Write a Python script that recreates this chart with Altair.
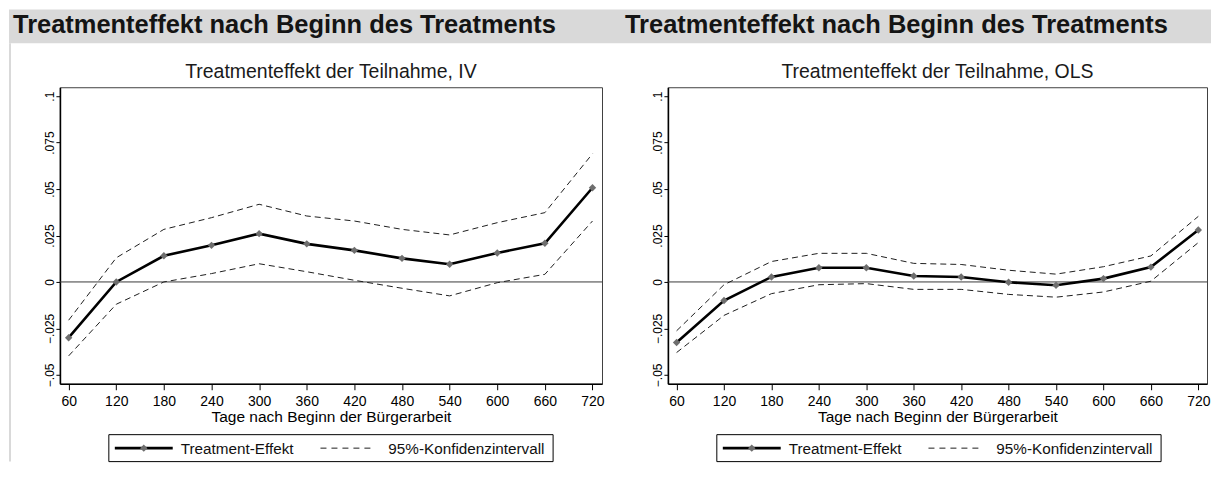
import altair as alt
import pandas as pd

# ---------------- data ----------------
DAYS = [60, 120, 180, 240, 300, 360, 420, 480, 540, 600, 660, 720]

IV_EFFECT = [-0.030, 0.000, 0.0141, 0.0197, 0.0260, 0.0205, 0.0170, 0.0127, 0.0095, 0.0156, 0.0208, 0.0507]
IV_UPPER = [-0.0206, 0.0130, 0.0283, 0.0346, 0.0418, 0.0355, 0.0328, 0.0283, 0.0253, 0.0319, 0.0373, 0.0690]
IV_LOWER = [-0.0398, -0.0120, 0.0000, 0.0045, 0.0098, 0.0055, 0.0009, -0.0034, -0.0075, -0.0004, 0.0041, 0.0328]

OLS_EFFECT = [-0.0326, -0.0100, 0.0027, 0.0076, 0.0076, 0.0032, 0.0027, -0.0002, -0.0018, 0.0018, 0.0080, 0.0280]
OLS_UPPER = [-0.0263, -0.0015, 0.0110, 0.0154, 0.0154, 0.0100, 0.0094, 0.0063, 0.0042, 0.0082, 0.0140, 0.0353]
OLS_LOWER = [-0.0380, -0.0180, -0.0063, -0.0015, -0.0009, -0.0040, -0.0040, -0.0067, -0.0082, -0.0054, 0.0004, 0.0212]

Y_TICKS = [-0.05, -0.025, 0, 0.025, 0.05, 0.075, 0.1]

BANNER = "Treatmenteffekt nach Beginn des Treatments"
SUBTITLES = ["Treatmenteffekt der Teilnahme, IV", "Treatmenteffekt der Teilnahme, OLS"]
X_TITLE = "Tage nach Beginn der Bürgerarbeit"
LEGEND_LABELS = ["Treatment-Effekt", "95%-Konfidenzintervall"]

FONT = "Liberation Sans, Arial, sans-serif"
ONE = pd.DataFrame({"k": [0]})
HEIGHT = 297


def deco_text(text, x, y, size, weight="normal", align="left", color="#111111"):
    return alt.Chart(ONE).mark_text(
        text=text, align=align, baseline="alphabetic", font=FONT,
        fontSize=size, fontWeight=weight, color=color
    ).encode(x=alt.value(x), y=alt.value(y))


def deco_rect(x, x2, y, y2, fill, stroke=None):
    kw = dict(fill=fill)
    if stroke:
        kw.update(stroke=stroke, strokeWidth=1)
    return alt.Chart(ONE).mark_rect(**kw).encode(
        x=alt.value(x), x2=alt.value(x2), y=alt.value(y), y2=alt.value(y2))


def panel(eff, hi, lo, subtitle, width, xdomain, banner_x, left_panel):
    df = pd.DataFrame({"day": DAYS, "eff": eff, "hi": hi, "lo": lo})

    xenc = alt.X(
        "day:Q",
        scale=alt.Scale(domain=xdomain, nice=False, zero=False),
        axis=alt.Axis(
            values=DAYS, title=X_TITLE, grid=False, labelFlush=False, labelOverlap=False,
            labelFontSize=14, labelFont=FONT, labelColor="black", labelPadding=5,
            tickSize=6, tickColor="black", domainColor="black", domainWidth=1.6,
            titleFont=FONT, titleFontSize=15.5, titleFontWeight="normal", titleColor="black",
            titleX=width / 2, titleY=38, titleBaseline="alphabetic", titleAlign="center",
        ),
    )

    def yenc(field):
        return alt.Y(
            f"{field}:Q",
            scale=alt.Scale(domain=[-0.0548, 0.1048], nice=False, zero=False),
            axis=alt.Axis(
                values=Y_TICKS, title=None, grid=False, labelFlush=False, labelOverlap=False,
                labelExpr="datum.value == 0 ? '0' : replace(format(datum.value, '.3~f'), '0.', '.')",
                labelAngle=270, labelAlign="center", labelBaseline="alphabetic",
                labelFontSize=12, labelFont=FONT, labelColor="black", labelPadding=2,
                tickSize=4, tickColor="black", domainColor="black", domainWidth=1.6,
            ),
        )

    base = alt.Chart(df)
    zero = alt.Chart(pd.DataFrame({"z": [0]})).mark_rule(
        color="#3a3a3a", strokeWidth=1).encode(y=yenc("z"))
    upper = base.mark_line(color="#1e1e1e", strokeWidth=1, strokeDash=[6, 4]).encode(x=xenc, y=yenc("hi"))
    lower = base.mark_line(color="#1e1e1e", strokeWidth=1, strokeDash=[6, 4]).encode(x=xenc, y=yenc("lo"))
    effect = base.mark_line(color="black", strokeWidth=2.6).encode(x=xenc, y=yenc("eff"))
    points = base.mark_point(shape="diamond", filled=True, color="#6e6e6e", size=55, opacity=1).encode(
        x=xenc, y=yenc("eff"))

    layers = []
    if left_panel:
        layers.append(deco_rect(-51, 1153, -78, -44, "#d9d9d9"))
        layers.append(deco_rect(-51, -49, -44, 375, "#d9d9d9"))
    layers.append(deco_text(BANNER, banner_x, -54, 25.5, weight="bold", color="#141414"))
    layers.append(deco_text(subtitle, width / 2, -9, 19.5, align="center", color="#1a1a1a"))

    # legend
    layers.append(deco_rect(49, 494, 348, 375, "white", stroke="black"))
    layers.append(alt.Chart(ONE).mark_rule(color="black", strokeWidth=2.6).encode(
        x=alt.value(55), x2=alt.value(113), y=alt.value(361.5)))
    layers.append(alt.Chart(ONE).mark_point(shape="diamond", filled=True, color="#6e6e6e", size=55, opacity=1).encode(
        x=alt.value(84), y=alt.value(361.5)))
    layers.append(deco_text(LEGEND_LABELS[0], 121, 367, 15.3, color="#111111"))
    layers.append(alt.Chart(ONE).mark_rule(color="#1e1e1e", strokeWidth=1, strokeDash=[6, 5]).encode(
        x=alt.value(261), x2=alt.value(316), y=alt.value(361.5)))
    layers.append(deco_text(LEGEND_LABELS[1], 329, 367, 15.3, color="#111111"))

    return alt.layer(zero, upper, lower, effect, points, *layers).properties(width=width, height=HEIGHT)


left = panel(IV_EFFECT, IV_UPPER, IV_LOWER, SUBTITLES[0], 543, [49, 732], -47, True)
right = panel(OLS_EFFECT, OLS_UPPER, OLS_LOWER, SUBTITLES[1], 540, [49, 731], -43, False)

chart = alt.hconcat(left, right, spacing=66, bounds="flush").properties(
    padding=0, background="white"
).configure_view(stroke="#404040", strokeWidth=1)

chart.save("out.html", embed_options={"renderer": "svg", "actions": False})
